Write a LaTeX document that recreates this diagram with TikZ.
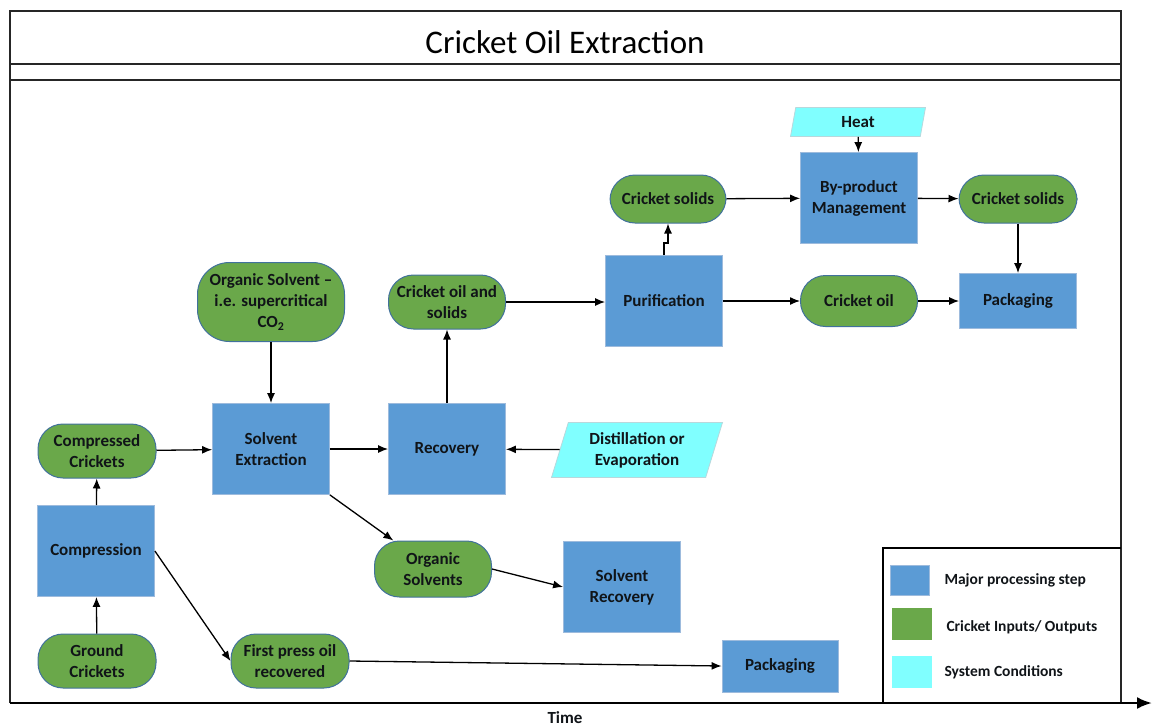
\documentclass[tikz,border=0pt]{standalone}
\usepackage{fontspec}
\setmainfont{Carlito}
\usetikzlibrary{arrows.meta,shapes.geometric}

\definecolor{stepblue}{HTML}{5B9BD5}
\definecolor{stepedge}{HTML}{9DBBDD}
\definecolor{iogreen}{HTML}{6AA84A}
\definecolor{ioedge}{HTML}{41719C}
\definecolor{condcyan}{HTML}{80FFFF}
\definecolor{condedge}{HTML}{B8D8DC}
\definecolor{textdark}{HTML}{101418}

\tikzset{
  lbl/.style={font=\bfseries\fontsize{17}{21}\selectfont, text=textdark, align=center},
  stepbox/.style={lbl, rectangle, fill=stepblue, draw=stepedge, line width=0.8pt,
    minimum width=117pt, minimum height=91pt, inner sep=2pt},
  iobox/.style={lbl, rectangle, rounded corners=25pt, fill=iogreen, draw=ioedge,
    line width=1pt, minimum width=118pt, minimum height=54pt, inner sep=1pt},
  condbox/.style={lbl, trapezium, trapezium left angle=67, trapezium right angle=113,
    trapezium stretches body, fill=condcyan, draw=condedge, line width=0.8pt, inner sep=2pt},
  flow/.style={-{Latex[length=10pt,width=8pt]}, line width=1.3pt},
  frameline/.style={line width=2pt, draw=black!85},
  keytext/.style={font=\bfseries\fontsize{15.5}{19}\selectfont, text=textdark, anchor=west},
}

\begin{document}
\begin{tikzpicture}[x=1pt, y=-1pt]
\useasboundingbox (0,0) rectangle (1152,726);

% outer frame with title band
\draw[frameline] (10,703) -- (10,11) -- (1121,11) -- (1121,703);
\draw[frameline] (10,64) -- (1121,64);
\draw[frameline] (10,80) -- (1121,80);
\node[font=\fontsize{33}{38}\selectfont] (title) at (565,42) {Cricket Oil Extraction};

% time axis along the bottom edge
\draw[line width=2.5pt, -{Latex[length=15pt,width=12pt]}] (10,703) -- (1152,703);
\node[font=\bfseries\fontsize{17}{20}\selectfont, text=textdark] (time) at (565,718) {Time};

% compression stage
\node[iobox] (compressed) at (97,451) {Compressed\\Crickets};
\node[stepbox] (compression) at (96,551) {Compression};
\node[iobox] (ground) at (97,661) {Ground\\Crickets};
\node[iobox] (firstpress) at (290,661) {First press oil\\recovered};
\node[stepbox, minimum height=52pt, minimum width=116pt] (pack1) at (780,666) {Packaging};

% solvent stage
\node[iobox, minimum width=147pt, minimum height=79pt, rounded corners=32pt] (solvent) at (271,302) {Organic Solvent --\\i.e. supercritical\\CO\textsubscript{2}};
\node[stepbox] (extraction) at (271,449) {Solvent\\Extraction};
\node[stepbox] (recovery) at (447,449) {Recovery};
\node[condbox, minimum height=55pt, minimum width=171pt] (distill) at (637,450) {Distillation or\\Evaporation};
\node[iobox, minimum width=117pt] (oilsolids) at (447,302) {Cricket oil and\\solids};
\node[iobox, minimum width=117pt, minimum height=56pt] (orgsolvents) at (433,569) {Organic\\Solvents};
\node[stepbox] (solvrec) at (622,587) {Solvent\\Recovery};

% purification and by-products
\node[stepbox] (purif) at (664,301) {Purification};
\node[iobox, minimum width=116pt, minimum height=48pt] (solidsA) at (668,199) {Cricket solids};
\node[stepbox] (byprod) at (859,198) {By-product\\Management};
\node[condbox, minimum height=29pt, minimum width=135pt, trapezium left angle=71, trapezium right angle=109] (heat) at (858,122) {Heat};
\node[iobox, minimum height=48pt] (solidsB) at (1018,199) {Cricket solids};
\node[iobox, minimum width=117pt, minimum height=51pt] (oil) at (859,301) {Cricket oil};
\node[stepbox, minimum height=55pt] (pack2) at (1018,301) {Packaging};

% connectors
\draw[flow] (ground) -- (compression);
\draw[flow] (compression) -- (compressed);
\draw[flow] (compressed) -- (extraction);
\draw[flow] (compression.east) -- (firstpress.west);
\draw[flow] (firstpress.east) -- (pack1.west);
\draw[flow] (solvent) -- (extraction);
\draw[flow] (extraction) -- (recovery);
\draw[flow] (extraction.south east) -- (orgsolvents);
\draw[flow] (orgsolvents.east) -- (solvrec.west);
\draw[flow] (distill) -- (recovery);
\draw[flow] (recovery) -- (oilsolids);
\draw[flow] (oilsolids.east) -- (purif.west |- oilsolids.east);
\draw[flow] (purif.north) -- ++(0,-12) -| (solidsA.south);
\draw[flow] (solidsA) -- (byprod);
\draw[flow] (heat) -- (byprod);
\draw[flow] (byprod) -- (solidsB);
\draw[flow] (solidsB) -- (pack2);
\draw[flow] (purif) -- (oil);
\draw[flow] (oil) -- (pack2);

% key
\draw[line width=1.3pt] (883,703) -- (883,548) -- (1121,548);
\node[rectangle, fill=stepblue, draw=stepedge, line width=0.8pt, minimum width=39pt, minimum height=30pt, inner sep=0pt] (keyA) at (910,580) {};
\node[rectangle, fill=iogreen, minimum width=40pt, minimum height=32pt, inner sep=0pt] (keyB) at (912,624) {};
\node[rectangle, fill=condcyan, minimum width=40pt, minimum height=32pt, inner sep=0pt] (keyC) at (912,672) {};
\node[keytext] (keyAt) at (941,580) {Major processing step};
\node[keytext] (keyBt) at (943,627) {Cricket Inputs/ Outputs};
\node[keytext] (keyCt) at (941,672) {System Conditions};
\end{tikzpicture}
\end{document}
